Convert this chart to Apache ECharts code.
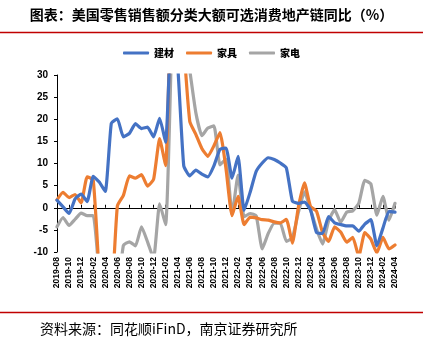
<!DOCTYPE html>
<html>
<head>
<meta charset="utf-8">
<script src="https://cdn.jsdelivr.net/npm/echarts@6/dist/echarts.min.js"></script>
<style>
  html, body { margin: 0; padding: 0; background: #ffffff; }
  #chart { width: 423px; height: 349px; }
</style>
</head>
<body>
<div id="chart"></div>
<script>
// Monthly year-over-year growth (%), 2019-08 .. 2024-04
const months = [];
for (let y = 2019, m = 8; y < 2024 || (y === 2024 && m <= 4); ) {
  months.push(y + '-' + String(m).padStart(2, '0'));
  m++; if (m > 12) { m = 1; y++; }
}

const buildingMaterials = [
  1.7, 0.2, -1.3, 2.0, 3.1, 1.4, 7.1, 5.8, 3.7, 19.1,
  20.1, 16.0, 16.8, 19.0, 17.9, 18.2, 16.0, 20.2, 14.8, 42,
  32, 9.5, 7.2, 8.5, 7.6, 7.0, 9.5, 13.2, 13.5, 6.7,
  11.6, -0.6, 3.5, 8.2, 10.1, 11.3, 10.9, 10.1, 9.0, 1.5,
  1.0, 1.3, -0.5, -5.6, -5.8, -2.0, -3.4, -3.8, -4.1, -4.1,
  -5.3, -3.7, -2.7, -8.6, -4.6, -0.8, -1.0
];

const furniture = [
  1.8, 3.5, 2.3, 3.0, 1.1, 7.0, 6.3, -16, -55, -24,
  0.4, 2.8, 7.2, 6.7, 7.5, 4.9, 6.4, 15.6, 9.5, 60,
  140, 38, 19.5, 16.6, 13.4, 11.6, 14.0, 17.0, 8.8, -1.8,
  2.6, -3.8, -2.1, -2.3, -2.7, -2.8, -3.2, -3.4, -2.6, -8.0,
  0.2, 5.6, 0.3, -0.8, -5.6, -7.6, -4.3, -5.5, -7.8, -6.7,
  -11, -5.6, -7.1, -10.2, -6.7, -9.3, -8.4
];

const appliances = [
  -4.3, -2.2, -4.0, -2.6, -1.2, -1.8, -1.8, -16, -40, -25,
  -20, -8.5, -7.7, -8.6, -4.3, -7.7, -11.5, 0.9, -3.8, 38,
  95, 40, 31, 21.5, 16.3, 18.0, 18.5, 9.7, 11.0, -1.5,
  7.4, -2.0, -1.3, -1.8, -9.3, -5.8, -3.5, -3.5, -7.6, -6.8,
  -1.0, 3.6, -0.4, -4.8, -8.2, -3.0, -0.4, -3.3, -1.0, -0.7,
  1.0, 6.2, 5.4, -1.7, 2.6, -2.8, 1.0
];

const seriesNames = ['建材', '家具', '家电'];
const seriesColors = ['#4472C4', '#ED7D31', '#A5A5A5'];
const seriesValues = [buildingMaterials, furniture, appliances];

const titleText = '图表：美国零售销售额分类大额可选消费地产链同比（%）';
const sourceText = '资料来源：同花顺iFinD，南京证券研究所';

const cjk = '"Noto Sans CJK SC", sans-serif';
const latin = '"Liberation Sans", Arial, sans-serif';

const chart = echarts.init(document.getElementById('chart'), null, { renderer: 'canvas' });

chart.setOption({
  animation: false,
  backgroundColor: '#ffffff',
  title: [
    {
      text: titleText,
      left: 'center',
      top: 3,
      textStyle: { fontFamily: cjk, fontSize: 14, fontWeight: 'bold', color: '#000' }
    },
    {
      text: sourceText,
      left: 35,
      top: 317,
      textStyle: { fontFamily: cjk, fontSize: 14, fontWeight: 'normal', color: '#000' }
    }
  ],
  graphic: [
    { type: 'line', shape: { x1: 0, y1: 32.5, x2: 423, y2: 32.5 }, style: { stroke: '#C00000', lineWidth: 1.5 } },
    { type: 'line', shape: { x1: 0, y1: 312.5, x2: 423, y2: 312.5 }, style: { stroke: '#C00000', lineWidth: 1.5 } }
  ],
  legend: {
    top: 43,
    left: 'center',
    itemWidth: 26,
    itemHeight: 3,
    itemGap: 12,
    icon: 'roundRect',
    textStyle: { fontFamily: cjk, fontSize: 10, fontWeight: 900, color: '#000' },
    data: seriesNames
  },
  grid: { left: 57, right: 28, top: 75, bottom: 97 },
  xAxis: [
    {
      // tick labels along the bottom
      type: 'category',
      data: months,
      boundaryGap: false,
      position: 'bottom',
      axisLine: { show: false, onZero: false },
      axisTick: { show: false },
      axisLabel: {
        interval: 1,
        rotate: 90,
        margin: 5,
        fontFamily: latin,
        fontSize: 8.5,
        fontWeight: 'bold',
        color: '#000'
      },
      splitLine: { show: false }
    },
    {
      // zero line with its ticks
      type: 'category',
      data: months,
      boundaryGap: false,
      position: 'bottom',
      axisLine: { show: true, onZero: true, lineStyle: { color: '#000', width: 1 } },
      axisTick: { show: true, interval: 1, inside: true, length: 3, lineStyle: { color: '#000' } },
      axisLabel: { show: false },
      splitLine: { show: false }
    }
  ],
  yAxis: {
    type: 'value',
    min: -10,
    max: 30,
    interval: 5,
    axisLine: { show: true, lineStyle: { color: '#000', width: 1 } },
    axisTick: { show: true, length: 3, lineStyle: { color: '#000' } },
    axisLabel: { margin: 9, fontFamily: latin, fontSize: 10, fontWeight: 'bold', color: '#000' },
    splitLine: { show: false }
  },
  series: seriesNames.map((name, k) => ({
    name: name,
    type: 'line',
    xAxisIndex: 0,
    data: seriesValues[k],
    showSymbol: false,
    symbol: 'none',
    smooth: 0.15,
    clip: true,
    color: seriesColors[k],
    lineStyle: { width: 3.2, color: seriesColors[k], join: 'round', cap: 'round' },
    z: 3 + (2 - k)
  }))
});
</script>
</body>
</html>
